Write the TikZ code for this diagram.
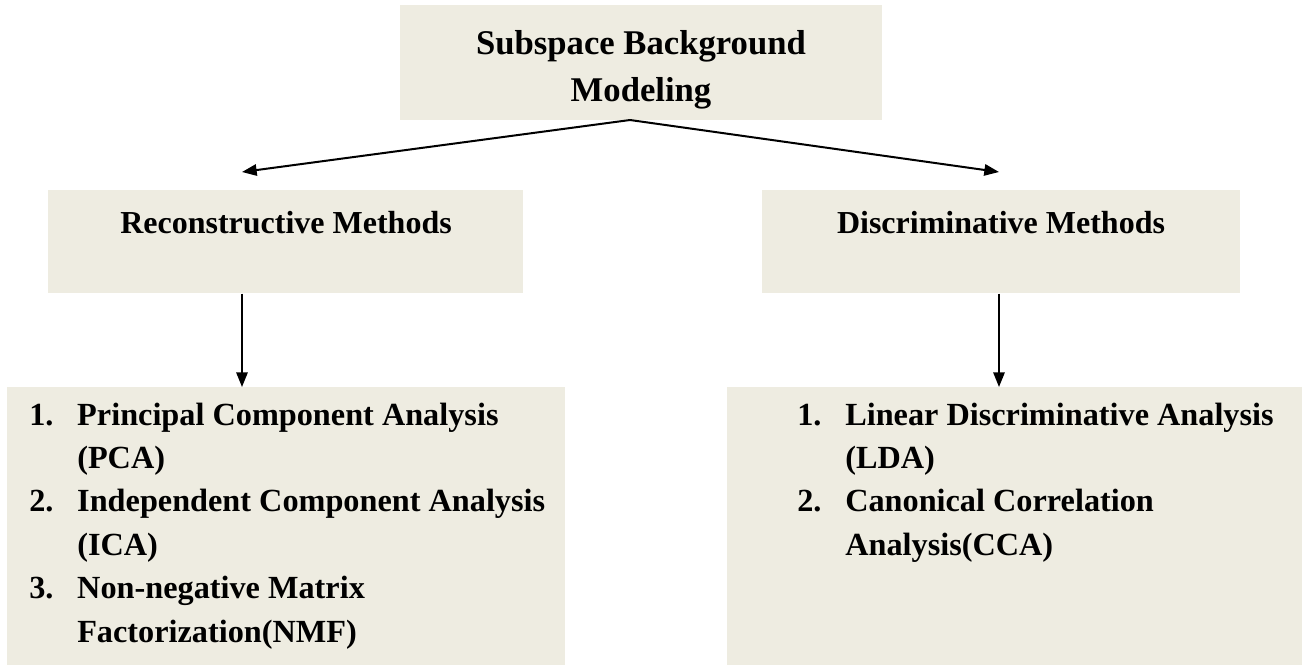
\documentclass[tikz,border=0pt]{standalone}
\usepackage{fontspec}
\setmainfont{Liberation Serif}
\usetikzlibrary{arrows.meta,positioning,calc}
\definecolor{boxfill}{HTML}{EEECE1}

\tikzset{
  box/.style={fill=boxfill, inner sep=0pt, anchor=north west},
  arr/.style={-{Triangle[length=11pt,width=8.5pt]}, line width=1.5pt},
  head/.style={font=\fontsize{24}{30}\selectfont\bfseries, inner sep=0pt, anchor=base},
  items/.style={font=\fontsize{24.2}{32.6}\selectfont\bfseries, inner sep=0pt, anchor=base west},
}

\begin{document}
\begin{tikzpicture}[x=0.75pt,y=-0.75pt]
    \useasboundingbox (0,0) rectangle (1302,665);

    % Boxes
    \node[box, minimum width=361.5pt, minimum height=86.25pt] (top) at (400,5) {};
    \node[box, minimum width=356.25pt, minimum height=77.25pt] (recon) at (48,190) {};
    \node[box, minimum width=358.5pt, minimum height=77.25pt] (discr) at (762,190) {};
    \node[box, minimum width=418.5pt, minimum height=208.5pt] (leftlist) at (7,387) {};
    \node[box, minimum width=431.25pt, minimum height=208.5pt] (rightlist) at (727,387) {};

    % Headings
    \node[head, font=\fontsize{26}{35.25}\selectfont\bfseries] (toptext) at (641,54)
        {\begin{tabular}[t]{@{}c@{}}Subspace Background\\Modeling\end{tabular}};
    \node[head] (recontext) at (286,233) {Reconstructive Methods};
    \node[head] (discrtext) at (1001,233) {Discriminative Methods};

    % Lists
    \node[items] (lefttext) at (29,425) {\begin{tabular}[t]{@{}p{36pt}@{}l@{}}
        1. & Principal Component Analysis\\
           & (PCA)\\
        2. & Independent Component Analysis\\
           & (ICA)\\
        3. & Non-negative Matrix\\
           & Factorization(NMF)
    \end{tabular}};
    \node[items] (righttext) at (797,425) {\begin{tabular}[t]{@{}p{36pt}@{}l@{}}
        1. & Linear Discriminative Analysis\\
           & (LDA)\\
        2. & Canonical Correlation\\
           & Analysis(CCA)
    \end{tabular}};

    % Arrows
    \coordinate (fork) at (630,120);
    \coordinate (ltip) at (242,172);
    \coordinate (rtip) at (999,172);
    \draw[arr] (fork) -- (ltip);
    \draw[arr] (fork) -- (rtip);
    \draw[arr] (recon.south -| ltip) -- (leftlist.north -| ltip);
    \draw[arr] (discr.south -| rtip) -- (rightlist.north -| rtip);
\end{tikzpicture}
\end{document}
